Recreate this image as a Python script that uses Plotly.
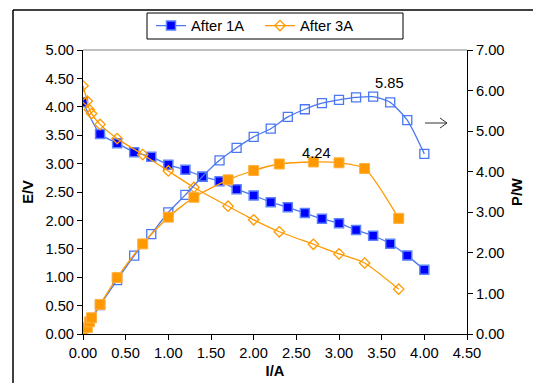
import plotly.graph_objects as go

# ---- data ----
i_1a = [0.0, 0.2, 0.4, 0.6, 0.8, 1.0, 1.2, 1.4, 1.6, 1.8, 2.0, 2.2, 2.4, 2.6, 2.8, 3.0, 3.2, 3.4, 3.6, 3.8, 4.0]
e_1a = [4.08, 3.52, 3.36, 3.20, 3.12, 2.98, 2.89, 2.77, 2.69, 2.55, 2.44, 2.32, 2.23, 2.13, 2.03, 1.95, 1.83, 1.73, 1.59, 1.38, 1.13]
p_1a = [0.0, 0.71, 1.33, 1.93, 2.46, 3.00, 3.43, 3.88, 4.28, 4.59, 4.86, 5.06, 5.35, 5.54, 5.69, 5.77, 5.83, 5.85, 5.71, 5.27, 4.44]

i_3a = [0.0, 0.05, 0.075, 0.1, 0.2, 0.4, 0.7, 1.0, 1.3, 1.7, 2.0, 2.3, 2.7, 3.0, 3.3, 3.7]
e_3a = [4.37, 4.10, 3.95, 3.88, 3.69, 3.44, 3.16, 2.87, 2.58, 2.25, 2.01, 1.80, 1.58, 1.41, 1.25, 0.79]
p_3a = [0.0, 0.16, 0.30, 0.40, 0.73, 1.39, 2.22, 2.88, 3.37, 3.80, 4.03, 4.19, 4.24, 4.22, 4.08, 2.85]

x_ticks = [0, 0.5, 1, 1.5, 2, 2.5, 3, 3.5, 4, 4.5]

BLUE_LINE = "#4a78f0"
BLUE_FILL = "#0000ff"
ORANGE = "#ff9900"
FONT = "Liberation Sans, Arial, sans-serif"
FS = 14.7

fig = go.Figure()

fig.add_trace(go.Scatter(
    x=i_1a, y=e_1a, name="After 1A", mode="lines+markers",
    line=dict(color=BLUE_LINE, width=1.3, shape="spline", smoothing=0.6),
    marker=dict(symbol="square", size=9, color=BLUE_FILL, line=dict(color="#5b82ff", width=1.5)),
))
fig.add_trace(go.Scatter(
    x=i_3a, y=e_3a, name="After 3A", mode="lines+markers",
    line=dict(color=ORANGE, width=1.3, shape="spline", smoothing=0.6),
    marker=dict(symbol="diamond-open", size=8, color=ORANGE, line=dict(width=1.3)),
))
fig.add_trace(go.Scatter(
    x=i_1a, y=p_1a, yaxis="y2", showlegend=False, mode="lines+markers",
    line=dict(color=BLUE_LINE, width=1.3, shape="spline", smoothing=0.6),
    marker=dict(symbol="square-open", size=9, color=BLUE_LINE, line=dict(width=1.3)),
))
fig.add_trace(go.Scatter(
    x=i_3a, y=p_3a, yaxis="y2", showlegend=False, mode="lines+markers",
    line=dict(color=ORANGE, width=1.3, shape="spline", smoothing=0.6),
    marker=dict(symbol="square", size=10, color=ORANGE, line=dict(color="#ffb040", width=1)),
))

L, R, T, B = 83, 66, 50, 49
W, H = 533, 383
pw, ph = W - L - R, H - T - B

def px(x):
    return (x - L) / pw

def py(y):
    return (H - B - y) / ph

shapes = [
    # outer chart frame (left and top visible)
    dict(type="line", xref="paper", yref="paper", x0=px(13), x1=px(540), y0=py(10), y1=py(10),
         line=dict(color="black", width=1.5)),
    dict(type="line", xref="paper", yref="paper", x0=px(13), x1=px(13), y0=py(10), y1=py(390),
         line=dict(color="black", width=1.5)),
    # legend box
    dict(type="rect", xref="paper", yref="paper", x0=px(147), x1=px(403), y0=py(13), y1=py(39),
         line=dict(color="black", width=1), fillcolor="rgba(0,0,0,0)"),
    # plot area top border
    dict(type="line", xref="paper", yref="paper", x0=0, x1=1, y0=1, y1=1,
         line=dict(color="#808080", width=1)),
    # arrow toward right axis
    dict(type="line", xref="paper", yref="paper", x0=px(425), x1=px(447), y0=py(123), y1=py(123),
         line=dict(color="#333333", width=1)),
    dict(type="line", xref="paper", yref="paper", x0=px(440), x1=px(447), y0=py(118), y1=py(123),
         line=dict(color="#333333", width=1)),
    dict(type="line", xref="paper", yref="paper", x0=px(440), x1=px(447), y0=py(128), y1=py(123),
         line=dict(color="#333333", width=1)),
]

annotations = [
    dict(text="5.85", x=px(389), y=py(83), xref="paper", yref="paper", showarrow=False,
         xanchor="center", yanchor="middle",
         font=dict(size=FS, color="black", family=FONT)),
    dict(text="4.24", x=px(316), y=py(153), xref="paper", yref="paper", showarrow=False,
         xanchor="center", yanchor="middle",
         font=dict(size=FS, color="black", family=FONT)),
]

axis_common = dict(showgrid=False, zeroline=False, ticks="outside", ticklen=5,
                   tickcolor="black", showline=True, linecolor="black", linewidth=1,
                   tickfont=dict(size=FS, color="black", family=FONT), tickformat=".2f",
                   automargin=False)

fig.update_layout(
    width=W, height=H,
    margin=dict(l=L, r=R, t=T, b=B, autoexpand=False),
    paper_bgcolor="white", plot_bgcolor="white",
    font=dict(family=FONT, size=FS, color="black"),
    xaxis=dict(range=[0, 4.5], tickvals=x_ticks, title=dict(text="<b>I/A</b>", standoff=6,
               font=dict(size=FS)), **axis_common),
    yaxis=dict(range=[0, 5], dtick=0.5, title=dict(text="<b>E/V</b>", standoff=8,
               font=dict(size=FS)), **axis_common),
    yaxis2=dict(range=[0, 7], dtick=1, overlaying="y", side="right",
                title=dict(text="<b>P/W</b>", standoff=8, font=dict(size=FS)), **axis_common),
    legend=dict(orientation="h", x=px(151), y=py(26), xanchor="left", yanchor="middle",
                borderwidth=0, bgcolor="rgba(0,0,0,0)",
                font=dict(size=FS, family=FONT), entrywidth=64, entrywidthmode="pixels",
                tracegroupgap=0),
    shapes=shapes, annotations=annotations,
    showlegend=True,
)

fig.write_html("out.html", config={"displayModeBar": False},
               post_script="document.body.style.margin='0';document.body.style.overflow='hidden';")
